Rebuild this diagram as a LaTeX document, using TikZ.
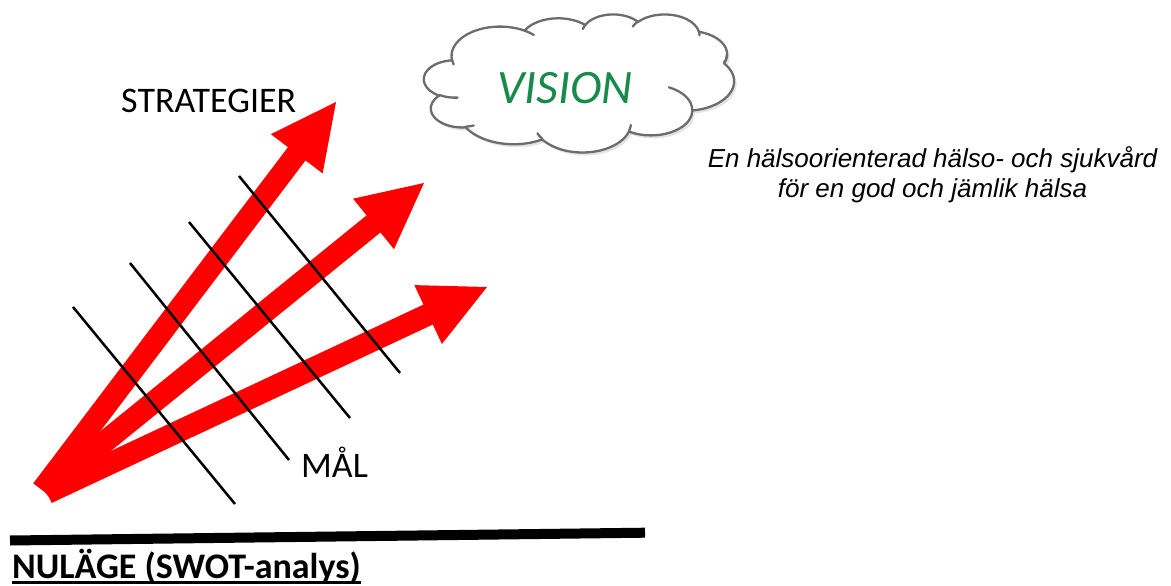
\documentclass[tikz,border=0pt]{standalone}
\usepackage{fontspec}
\setmainfont{Carlito}
\newfontfamily\arialfont{Liberation Sans}
\usetikzlibrary{calc,shadows}
\definecolor{arrred}{RGB}{255,0,0}
\definecolor{cloudgray}{RGB}{108,108,108}
\definecolor{visgreen}{RGB}{24,138,74}
\begin{document}
\begin{tikzpicture}[x=1pt,y=-1pt,
  shaft/.style={draw=arrred,line width=22pt,line cap=butt},
  headfill/.style={fill=arrred},
  goalline/.style={draw=black,line width=2.5pt},
  baseline/.style={draw=black,line width=10pt,line cap=butt},
  lbl/.style={inner sep=0pt,font=\fontsize{36}{42}\selectfont},
  vistext/.style={inner sep=0pt,text=visgreen,font=\fontsize{48}{56}\selectfont\itshape},
  visiontxt/.style={inner sep=0pt,font=\arialfont\itshape\fontsize{26}{30}\selectfont},
  cloudline/.style={draw=cloudgray,line width=2.3pt,line cap=round},
  cloudfill/.style={cloudline,fill=white,line join=round,
     drop shadow={shadow xshift=2.5pt,shadow yshift=-3pt,opacity=0.22}}
]
\useasboundingbox (0,0) rectangle (1171,586);

% arrows
\coordinate (oa) at (42,490);  \coordinate (ta) at (336,102);
\coordinate (ob) at (44,491);  \coordinate (tb) at (424,183);
\coordinate (oc) at (47,493);  \coordinate (tc) at (487,287);
\coordinate (na) at ($(ta)!65pt!(oa)$); \coordinate (ma) at ($(ta)!62pt!(oa)$);
\coordinate (nb) at ($(tb)!65pt!(ob)$); \coordinate (mb) at ($(tb)!62pt!(ob)$);
\coordinate (nc) at ($(tc)!65pt!(oc)$); \coordinate (mc) at ($(tc)!62pt!(oc)$);
\draw[shaft] (oa) -- (ma);
\draw[shaft] (ob) -- (mb);
\draw[shaft] (oc) -- (mc);
\fill[headfill] (ta) -- ($(na)!32.5pt!90:(ta)$) -- ($(na)!32.5pt!-90:(ta)$) -- cycle;
\fill[headfill] (tb) -- ($(nb)!32.5pt!90:(tb)$) -- ($(nb)!32.5pt!-90:(tb)$) -- cycle;
\fill[headfill] (tc) -- ($(nc)!32.5pt!90:(tc)$) -- ($(nc)!32.5pt!-90:(tc)$) -- cycle;

% goal lines
\coordinate (ga1) at (73,307);  \coordinate (ga2) at (235,504);
\coordinate (gb1) at (130,263); \coordinate (gb2) at (289,460);
\coordinate (gc1) at (189,222); \coordinate (gc2) at (350,418);
\coordinate (gd1) at (239,176); \coordinate (gd2) at (400,373);
\draw[goalline] (ga1) -- (ga2);
\draw[goalline] (gb1) -- (gb2);
\draw[goalline] (gc1) -- (gc2);
\draw[goalline] (gd1) -- (gd2);

% base line
\coordinate (bl1) at (10,540.5);
\coordinate (bl2) at (645,532.7);
\draw[baseline] (bl1) -- (bl2);

% labels
\node[lbl,anchor=base west] (strat) at (121,113) {STRATEGIER};
\node[lbl,anchor=base west] (mal) at (301,477) {MÅL};
\node[lbl,anchor=base west,font=\fontsize{36}{42}\selectfont\bfseries] (nul) at (12,578) {NULÄGE (SWOT-analys)};
\draw[line width=2.5pt] ($(nul.base west)+(0,4.5)$) -- ($(nul.base east)+(0,4.5)$);

% cloud (preset cloud outline, 432 x 432 units)
\begin{scope}[shift={(424,14)},x=0.71759pt,y=-0.31944pt]
\path[cloudfill] (39.00,143.70)
  arc[start angle=-187.746, delta angle=128.109, x radius=67.53, y radius=91.90]
  arc[start angle=-152.024, delta angle=106.570, x radius=53.33, y radius=72.67]
  arc[start angle=-153.488, delta angle=116.159, x radius=43.65, y radius=59.45]
  arc[start angle=-139.711, delta angle=129.499, x radius=48.57, y radius=65.95]
  arc[start angle=-74.769, delta angle=97.980, x radius=53.33, y radius=72.73]
  arc[start angle=-37.523, delta angle=119.384, x radius=67.75, y radius=92.20]
  arc[start angle=0.460, delta angle=121.518, x radius=57.85, y radius=78.67]
  arc[start angle=16.845, delta angle=129.393, x radius=67.52, y radius=92.15]
  arc[start angle=58.988, delta angle=91.198, x radius=77.20, y radius=105.43]
  arc[start angle=-276.695, delta angle=139.801, x radius=43.60, y radius=59.18]
  arc[start angle=-239.651, delta angle=143.764, x radius=43.45, y radius=59.45]
  -- cycle;
\draw[cloudline] (46.93,261.77) arc[start angle=85.547, delta angle=34.802, x radius=43.45, y radius=59.45];
\draw[cloudline] (69.28,348.99) arc[start angle=68.234, delta angle=15.071, x radius=43.60, y radius=59.18];
\draw[cloudline] (164.78,390.90) arc[start angle=146.238, delta angle=12.235, x radius=67.52, y radius=92.15];
\draw[cloudline] (288.27,347.51) arc[start angle=4.738, delta angle=12.107, x radius=67.52, y radius=92.15];
\draw[cloudline] (341.29,229.54) arc[start angle=-64.028, delta angle=64.488, x radius=57.85, y radius=78.67];
\draw[cloudline] (417.98,153.54) arc[start angle=23.211, delta angle=-21.328, x radius=53.33, y radius=72.73];
\draw[cloudline] (383.24,54.26) arc[start angle=-10.212, delta angle=11.033, x radius=48.57, y radius=65.95];
\draw[cloudline] (290.78,39.52) arc[start angle=-156.282, delta angle=16.571, x radius=48.57, y radius=65.95];
\draw[cloudline] (221.41,47.20) arc[start angle=-167.726, delta angle=14.238, x radius=43.65, y radius=59.45];
\draw[cloudline] (140.00,51.92) arc[start angle=-59.637, delta angle=13.909, x radius=67.53, y radius=91.90];
\draw[cloudline] (41.27,157.89) arc[start angle=163.156, delta angle=9.098, x radius=67.53, y radius=91.90];
\end{scope}
\node[vistext] (vision) at (565,88) {VISION};

\node[visiontxt,anchor=base] (v1) at (932.5,167) {En hälsoorienterad hälso- och sjukvård};
\node[visiontxt,anchor=base] (v2) at (932.5,197) {för en god och jämlik hälsa};
\end{tikzpicture}
\end{document}
